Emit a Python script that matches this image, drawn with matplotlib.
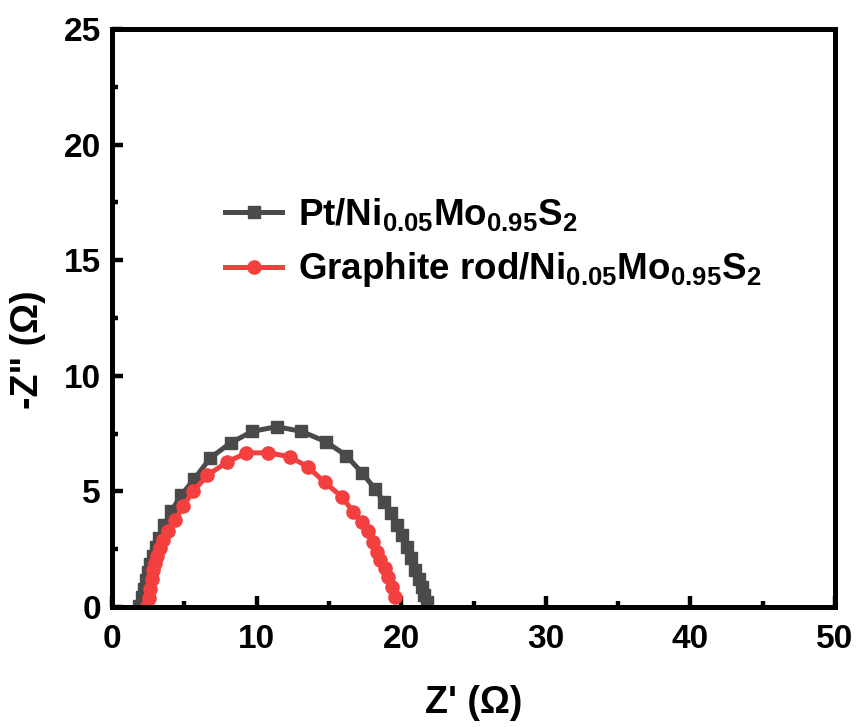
import matplotlib
matplotlib.use("Agg")
import matplotlib.pyplot as plt
from matplotlib.ticker import MultipleLocator

plt.rcParams.update({
    "font.family": "Liberation Sans",
    "font.weight": "bold",
    "axes.labelweight": "bold",
    "mathtext.fontset": "custom",
    "mathtext.rm": "Liberation Sans:bold",
    "mathtext.bf": "Liberation Sans:bold",
    "mathtext.default": "bf",
})

# Nyquist data
pt_x = [1.85, 2.05, 2.2, 2.35, 2.5, 2.65, 2.85, 3.05, 3.25, 3.6, 4.1, 4.8,
        5.7, 6.8, 8.2, 9.7, 11.4, 13.1, 14.8, 16.2, 17.3, 18.2, 18.8, 19.3,
        19.7, 20.05, 20.4, 20.7, 20.95, 21.2, 21.45, 21.6, 21.75]
pt_y = [0.05, 0.45, 0.8, 1.15, 1.5, 1.85, 2.2, 2.6, 3.0, 3.55, 4.15, 4.85,
        5.55, 6.45, 7.1, 7.6, 7.8, 7.6, 7.15, 6.55, 5.8, 5.1, 4.55, 4.05,
        3.55, 3.1, 2.6, 2.1, 1.6, 1.2, 0.85, 0.5, 0.2]

gr_x = [2.45, 2.55, 2.65, 2.75, 2.85, 2.95, 3.1, 3.3, 3.5, 3.9, 4.36, 4.9,
        5.6, 6.6, 7.95, 9.3, 10.8, 12.3, 13.55, 14.7, 15.9, 16.7, 17.3,
        17.7, 18.05, 18.3, 18.55, 18.9, 19.1, 19.35, 19.6]
gr_y = [0.05, 0.4, 0.8, 1.2, 1.6, 1.9, 2.2, 2.55, 2.9, 3.3, 3.75, 4.35,
        5.0, 5.7, 6.27, 6.67, 6.67, 6.5, 6.06, 5.4, 4.77, 4.1, 3.7, 3.3,
        2.8, 2.4, 2.03, 1.7, 1.3, 0.88, 0.44]

labels = [r"Pt/Ni$_{0.05}$Mo$_{0.95}$S$_{2}$",
          r"Graphite rod/Ni$_{0.05}$Mo$_{0.95}$S$_{2}$"]

fig = plt.figure(figsize=(8.65, 7.27), dpi=100)
ax = fig.add_axes([0.1295, 0.165, 0.8358, 0.795])

ax.plot(pt_x, pt_y, color="#4a4a4a", lw=3.6, marker="s", ms=8.5,
        label=labels[0])
ax.plot(gr_x, gr_y, color="#f43f3f", lw=3.6, marker="o", ms=9.5,
        label=labels[1])

ax.set_xlim(0, 50)
ax.set_ylim(0, 25)
ax.xaxis.set_major_locator(MultipleLocator(10))
ax.xaxis.set_minor_locator(MultipleLocator(5))
ax.yaxis.set_major_locator(MultipleLocator(5))
ax.yaxis.set_minor_locator(MultipleLocator(2.5))
ax.tick_params(which="major", direction="in", length=8, width=3.2,
               labelsize=24, pad=8)
ax.tick_params(which="minor", direction="in", length=4.5, width=3.2)
ax.tick_params(axis="x", pad=12)
for s in ax.spines.values():
    s.set_linewidth(3.6)

ax.set_xlabel("Z' (\u03a9)", fontsize=27, labelpad=22)
ax.set_ylabel('-Z" (\u03a9)', fontsize=27)
ax.yaxis.set_label_coords(-0.092, 0.445)

ax.legend(loc="upper left", bbox_to_anchor=(0.136, 0.737), frameon=False,
          fontsize=26.5, handlelength=1.55, handletextpad=0.43,
          labelspacing=0.48, borderaxespad=0)

fig.savefig("out.png", dpi=100)
